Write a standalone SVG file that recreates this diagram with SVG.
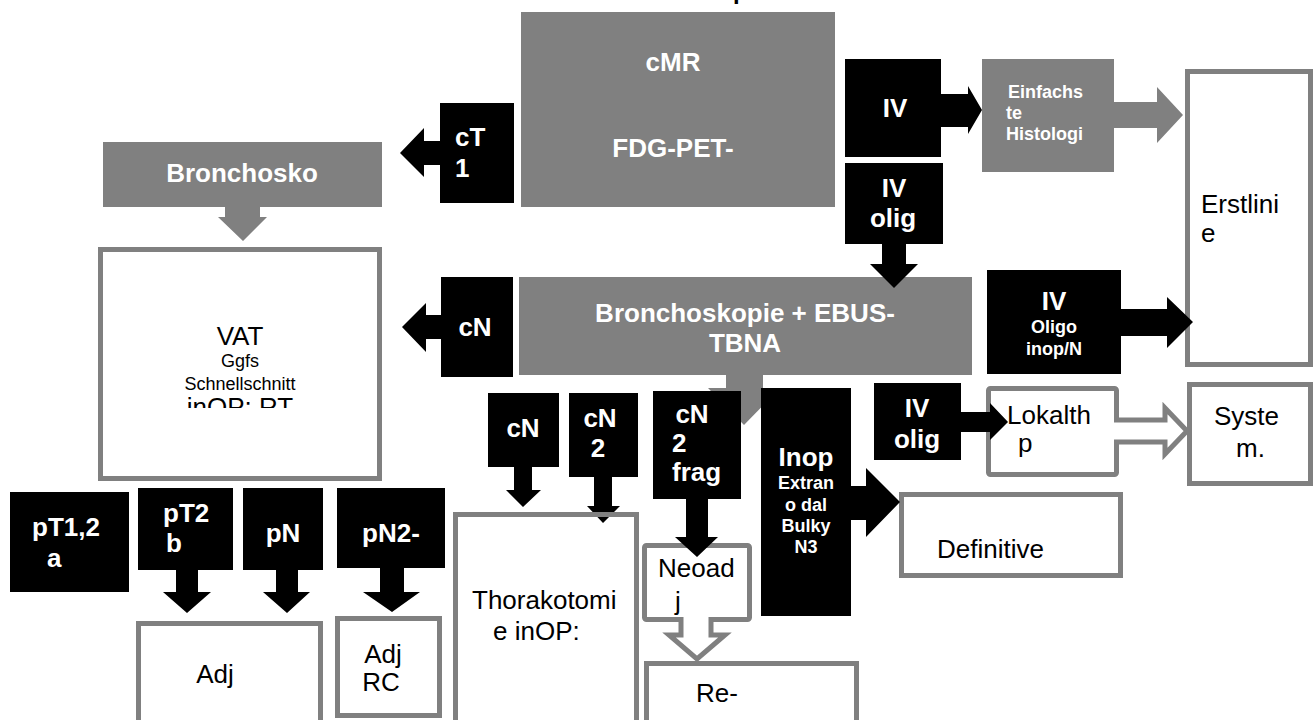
<svg xmlns="http://www.w3.org/2000/svg" width="1314" height="720" viewBox="0 0 1314 720">
<defs>
<style>
.g{fill:#808080}
.k{fill:#000}
.w{fill:#fff;stroke:#808080;stroke-width:5}
.ha{fill:#fff;stroke:#808080;stroke-width:5;stroke-linejoin:miter}
.ka{fill:#000}
.ga{fill:#808080}
text{font-family:"Liberation Sans",Arial,sans-serif}
.tb{font-size:26px;font-weight:bold;fill:#fff}
.ts{font-size:18px;font-weight:bold;fill:#fff}
.tr{font-size:26px;fill:#000}
.trs{font-size:18px;fill:#000}
.m{text-anchor:middle}
</style>
<clipPath id="clipVat"><rect x="100" y="250" width="280" height="158"/></clipPath>
</defs>
<rect width="1314" height="720" fill="#fff"/>
<text x="733" y="-1" style="font-size:24px;font-weight:bold;fill:#000">p</text>

<!-- gray and white nodes -->
<g id="n-cmr"><rect class="g" x="521" y="12" width="314" height="195"/>
<text class="tb m" x="673" y="71">cMR</text><text class="tb m" x="673" y="157">FDG-PET-</text></g>
<g id="n-bronchosko"><rect class="g" x="103" y="142" width="279" height="65"/>
<text class="tb m" x="242" y="182">Bronchosko</text></g>
<g id="n-ebus"><rect class="g" x="519" y="277" width="453" height="98"/>
<text class="tb m" x="745" y="322">Bronchoskopie + EBUS-</text><text class="tb m" x="745" y="352">TBNA</text></g>
<g id="n-einfach"><rect class="g" x="982" y="59" width="132" height="113"/>
<text class="ts" x="1008" y="98">Einfachs</text><text class="ts" x="1006" y="119">te</text><text class="ts" x="1006" y="140">Histologi</text></g>
<g id="n-vat"><rect class="w" x="100.5" y="249.5" width="279" height="229"/>
<text class="tr m" x="240" y="345">VAT</text><text class="trs m" x="240" y="367">Ggfs</text><text class="trs m" x="240" y="390">Schnellschnitt</text>
<text class="tr m" x="240" y="416" clip-path="url(#clipVat)">inOP: RT</text></g>
<g id="n-erstlinie"><rect class="w" x="1187.5" y="71.5" width="123" height="293"/>
<text class="tr" x="1201" y="213">Erstlini</text><text class="tr" x="1201" y="242">e</text></g>
<g id="n-lokal"><rect class="w" x="988.5" y="388.5" width="128" height="86" rx="2"/>
<text class="tr" x="1007" y="424">Lokalth</text><text class="tr" x="1018" y="452">p</text></g>
<g id="n-system"><rect class="w" x="1189.5" y="384.5" width="121" height="99"/>
<text class="tr" x="1214" y="425">Syste</text><text class="tr" x="1236" y="457">m.</text></g>
<g id="n-definitive"><rect class="w" x="901.5" y="494.5" width="219" height="81"/>
<text class="tr" x="937" y="558">Definitive</text></g>
<g id="n-thorako"><rect class="w" x="455.5" y="514.5" width="181" height="220"/>
<text class="tr" x="472" y="609">Thorakotomi</text><text class="tr" x="493" y="640">e inOP:</text></g>
<g id="n-neoadj"><rect class="w" x="644.5" y="545.5" width="105" height="74" rx="2"/>
<text class="tr" x="658" y="577">Neoad</text><text class="tr" x="675" y="610">j</text></g>
<g id="n-re"><rect class="w" x="646.5" y="663.5" width="210" height="80"/>
<text class="tr" x="696" y="702">Re-</text></g>
<g id="n-adj"><rect class="w" x="138.5" y="623.5" width="182" height="120"/>
<text class="tr m" x="215" y="683">Adj</text></g>
<g id="n-adjrc"><rect class="w" x="337.5" y="618.5" width="102" height="97"/>
<text class="tr m" x="383" y="663">Adj</text><text class="tr m" x="381" y="691">RC</text></g>

<!-- connectors -->
<g id="connectors">
<polygon class="ka" points="441,141 424,141 424,128 400,153 424,177 424,165 441,165"/>
<polygon class="ka" points="442,315 426,315 426,303 402,327 426,352 426,339 442,339"/>
<polygon class="ga" points="225,206 260,206 260,217 267,217 243,241 218,217 225,217"/>
<polygon class="ka" points="940,94 968,94 968,86 982,110 968,134 968,127 940,127"/>
<polygon class="ga" points="1113,102 1157,102 1157,87 1183,115 1157,143 1157,128 1113,128"/>
<polygon class="ka" points="882,243 906,243 906,264 918,264 894,288 870,264 882,264"/>
<polygon class="ka" points="1120,309 1167,309 1167,297 1193,322 1167,348 1167,336 1120,336"/>
<polygon class="ka" points="960,412 990,412 990,403 1008,422 990,440 990,432 960,432"/>
<path class="ha" d="M1114,420 H1165 V408 L1187,431 L1165,454 V442 H1114"/>
<polygon class="ka" points="850,486 866,486 866,468 900,502 866,537 866,520 850,520"/>
<polygon class="ga" points="726,374 763,374 763,388 780,388 744,425 708,388 726,388"/>
<polygon class="ka" points="514,466 532,466 532,490 541,490 523,507 506,490 514,490"/>
<polygon class="ka" points="594,476 612,476 612,506 620,506 603,523 587,506 594,506"/>
<polygon class="ka" points="686,498 708,498 708,537 718,537 697,557 675,537 686,537"/>
<path class="ha" d="M681,617 V635 H669 L697,659 L725,635 H711 V617"/>
<polygon class="ka" points="176,569 198,569 198,592 211,592 187,613 163,592 176,592"/>
<polygon class="ka" points="276,569 298,569 298,592 310,592 287,613 263,592 276,592"/>
<polygon class="ka" points="380,567 404,567 404,592 420,592 392,612 363,592 380,592"/>
</g>
<line x1="584" y1="514.5" x2="626" y2="514.5" stroke="#808080" stroke-width="5"/>

<!-- black nodes -->
<g id="n-ct1"><rect class="k" x="440" y="103" width="74" height="100"/>
<text class="tb" x="455" y="146">cT</text><text class="tb" x="455" y="177">1</text></g>
<g id="n-cn-left"><rect class="k" x="441" y="277" width="72" height="100"/>
<text class="tb m" x="475" y="336">cN</text></g>
<g id="n-iv"><rect class="k" x="845" y="59" width="96" height="98"/>
<text class="tb m" x="895" y="117">IV</text></g>
<g id="n-ivolig1"><rect class="k" x="845" y="163" width="98" height="81"/>
<text class="tb m" x="894" y="197">IV</text><text class="tb m" x="893" y="227">olig</text></g>
<g id="n-ivoligo"><rect class="k" x="987" y="270" width="134" height="104"/>
<text class="tb m" x="1054" y="310">IV</text><text class="ts m" x="1054" y="333">Oligo</text><text class="ts m" x="1054" y="355">inop/N</text></g>
<g id="n-ivolig2"><rect class="k" x="874" y="383" width="87" height="77"/>
<text class="tb m" x="917" y="417">IV</text><text class="tb m" x="917" y="448">olig</text></g>
<g id="n-inop"><rect class="k" x="761" y="388" width="90" height="228"/>
<text class="tb m" x="806" y="466">Inop</text><text class="ts m" x="806" y="489">Extran</text><text class="ts m" x="806" y="511">o dal</text><text class="ts m" x="806" y="532">Bulky</text><text class="ts m" x="806" y="553">N3</text></g>
<g id="n-cn-low"><rect class="k" x="488" y="393" width="71" height="74"/>
<text class="tb m" x="523" y="437">cN</text></g>
<g id="n-cn2"><rect class="k" x="569" y="393" width="69" height="84"/>
<text class="tb m" x="600" y="427">cN</text><text class="tb m" x="598" y="457">2</text></g>
<g id="n-cn2frag"><rect class="k" x="653" y="391" width="88" height="108"/>
<text class="tb m" x="692" y="423">cN</text><text class="tb" x="672" y="452">2</text><text class="tb" x="672" y="481">frag</text></g>
<g id="n-pt12a"><rect class="k" x="10" y="492" width="119" height="100"/>
<text class="tb" x="32" y="536">pT1,2</text><text class="tb" x="47" y="567">a</text></g>
<g id="n-pt2b"><rect class="k" x="138" y="488" width="95" height="82"/>
<text class="tb" x="163" y="522">pT2</text><text class="tb" x="166" y="552">b</text></g>
<g id="n-pn"><rect class="k" x="243" y="488" width="80" height="82"/>
<text class="tb m" x="283" y="542">pN</text></g>
<g id="n-pn2"><rect class="k" x="337" y="488" width="108" height="80"/>
<text class="tb m" x="391" y="542">pN2-</text></g>
</svg>
